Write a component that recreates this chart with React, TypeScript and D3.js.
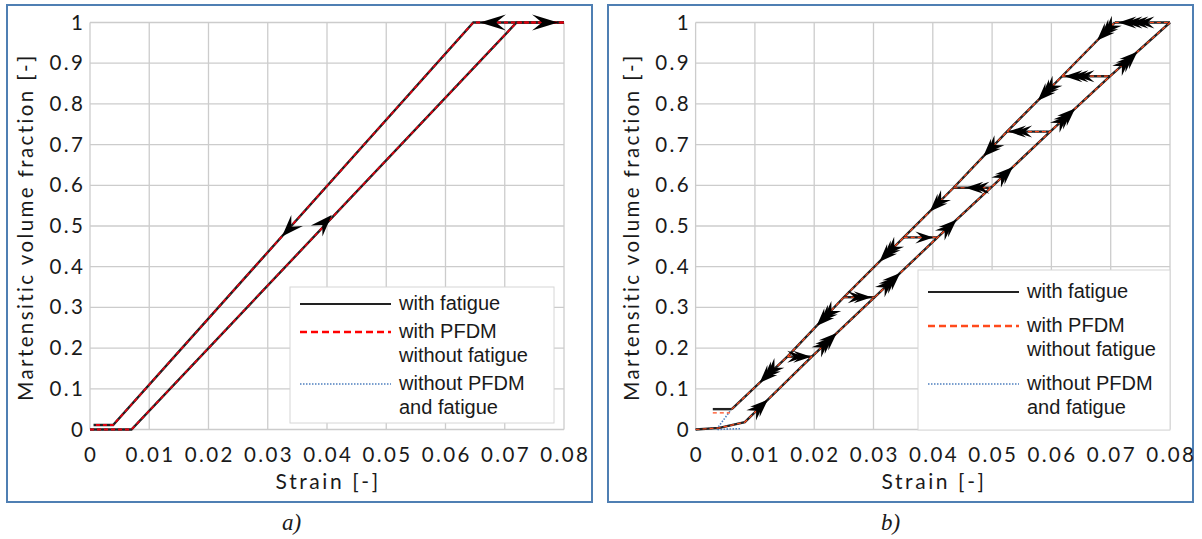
import React from 'react';
import * as d3 from 'd3';

// ---------- shared axes ----------
const xTicks = [0, 0.01, 0.02, 0.03, 0.04, 0.05, 0.06, 0.07, 0.08];
const xTickLabels = ['0', '0.01', '0.02', '0.03', '0.04', '0.05', '0.06', '0.07', '0.08'];
const yTicks = [0, 0.1, 0.2, 0.3, 0.4, 0.5, 0.6, 0.7, 0.8, 0.9, 1];
const yTickLabels = ['0', '0.1', '0.2', '0.3', '0.4', '0.5', '0.6', '0.7', '0.8', '0.9', '1'];
const xTitle = 'Strain [-]';
const yTitle = 'Martensitic volume fraction [-]';
const legendLabels = [['with fatigue'], ['with PFDM', 'without fatigue'], ['without PFDM', 'and fatigue']];

// ---------- panel a ----------
const aLoadStrain = [0, 0.007, 0.072, 0.08];
const aLoadFrac = [0, 0, 1, 1];
const aUnloadStrain = [0.08, 0.0647, 0.0039, 0.0006];
const aUnloadFrac = [1, 1, 0.011, 0.011];
const aArrowStrain = [0.0324, 0.0408, 0.0658, 0.079];
const aArrowFrac = [0.474, 0.527, 1, 1];
const aArrowToward = ['down', 'up', 'left', 'right'];

// ---------- panel b ----------
const bLowerStrain = [0, 0.004, 0.0083, 0.0196, 0.0302, 0.0408, 0.0498, 0.0598, 0.0699, 0.08];
const bLowerFrac = [0, 0.004, 0.018, 0.179, 0.325, 0.472, 0.594, 0.732, 0.868, 1];
const bUpperStrain = [0.0061, 0.01547, 0.025, 0.0351, 0.0435, 0.0525, 0.0618, 0.0707];
const bUpperFrac = [0.05, 0.179, 0.325, 0.472, 0.594, 0.732, 0.868, 1];
const bHorizLevels = [0.179, 0.325, 0.472, 0.594, 0.732, 0.868, 1];
const bHorizFrom = [0.01547, 0.025, 0.0351, 0.0435, 0.0525, 0.0618, 0.0707];
const bHorizTo = [0.0196, 0.0302, 0.0408, 0.0498, 0.0598, 0.0699, 0.08];
const bFatigueStubStrain = [0.0029, 0.0061];
const bFatigueStubFrac = [0.05, 0.05];
const bPfdmStubStrain = [0.0029, 0.0058];
const bPfdmStubFrac = [0.041, 0.041];
const bPlainStubStrain = [0.0058, 0.0035, 0.0075];
const bPlainStubFrac = [0.045, 0.0, 0.002];
const bUpArrowStrain = [0.0122, 0.0238, 0.0345, 0.044, 0.0535, 0.064, 0.0745];
const bUpArrowCount = [2, 3, 3, 2, 2, 3, 3];
const bDownArrowStrain = [0.0108, 0.0204, 0.031, 0.0395, 0.0485, 0.0577, 0.0677];
const bDownArrowCount = [3, 3, 3, 2, 2, 3, 3];
const bHArrowStrain = [0.0195, 0.0297, 0.0401, 0.0455, 0.0527, 0.0622, 0.0713];
const bHArrowFrac = [0.179, 0.325, 0.472, 0.594, 0.732, 0.868, 1];
const bHArrowDir = ['right', 'right', 'right', 'left', 'left', 'left', 'left'];
const bHArrowCount = [2, 2, 1, 2, 2, 3, 4];

const GRID = '#cccccc';
const TXT = '#1a1a1a';
const FRAME = '#4f7fb3';
const LS = 2.4;

function arrowPath(len: number, hw: number) {
  return `M0,0 L${-len},${-hw} L${-len * 0.62},0 L${-len},${hw} Z`;
}

function Arrow({ x, y, angle, len, hw, count, gap }: any) {
  const heads = d3.range(count);
  return (
    <g transform={`translate(${x},${y}) rotate(${angle})`}>
      {heads.map((i) => (
        <path key={i} d={arrowPath(len, hw)} transform={`translate(${-i * gap},0)`} fill="#000" />
      ))}
    </g>
  );
}

function Axes({ xs, ys }: any) {
  const [x0, x1] = xs.range();
  const [y0, y1] = ys.range();
  return (
    <g>
      {xTicks.map((t, i) => (
        <g key={'x' + i}>
          <line x1={xs(t)} x2={xs(t)} y1={y0} y2={y1} stroke={GRID} strokeWidth={1.3} />
          <text x={xs(t) + LS / 2} y={y0 + 32} textAnchor="middle" fontFamily="Lato" fontSize={20.5} letterSpacing={LS} fill={TXT}>
            {xTickLabels[i]}
          </text>
        </g>
      ))}
      {yTicks.map((t, i) => (
        <g key={'y' + i}>
          <line x1={x0} x2={x1} y1={ys(t)} y2={ys(t)} stroke={GRID} strokeWidth={1.3} />
          <text x={x0 - 7 + LS} y={ys(t) + 7} textAnchor="end" fontFamily="Lato" fontSize={20.5} letterSpacing={LS} fill={TXT}>
            {yTickLabels[i]}
          </text>
        </g>
      ))}
      <text x={(x0 + x1) / 2 + LS / 2} y={y0 + 59} textAnchor="middle" fontFamily="Lato" fontSize={21} letterSpacing={2.6} fill={TXT}>
        {xTitle}
      </text>
      <text
        transform={`translate(${x0 - 57},${(y0 + y1) / 2 + 1}) rotate(-90)`}
        textAnchor="middle"
        fontFamily="Lato"
        fontSize={20.5}
        letterSpacing={2.4}
        fill={TXT}
      >
        {yTitle}
      </text>
    </g>
  );
}

function Legend({ x, y, w, h, red, rows }: any) {
  return (
    <g>
      <rect x={x} y={y} width={w} height={h} fill="#fff" stroke="#d6d6d6" strokeWidth={1} />
      <line x1={x + 10} x2={x + 101} y1={rows[0]} y2={rows[0]} stroke="#222" strokeWidth={2.2} />
      <line x1={x + 10} x2={x + 101} y1={rows[1]} y2={rows[1]} stroke={red} strokeWidth={2.6} strokeDasharray="7,4" />
      <line x1={x + 10} x2={x + 101} y1={rows[2]} y2={rows[2]} stroke="#4e7fbf" strokeWidth={1.6} strokeDasharray="1.5,1.5" />
      {legendLabels.map((lines, i) =>
        lines.map((s, j) => (
          <text
            key={i + '-' + j}
            x={x + 109}
            y={rows[i] + 6 + j * 23.5}
            fontFamily="'Liberation Sans', Arial"
            fontSize={20}
            fill={TXT}
          >
            {s}
          </text>
        ))
      )}
    </g>
  );
}

function SeriesLines({ paths, red, redWidth }: any) {
  const line = d3.line<[number, number]>();
  return (
    <g fill="none">
      {paths.plain.map((p: any, i: number) => (
        <path key={'p' + i} d={line(p) || ''} stroke="#4e7fbf" strokeWidth={1.6} strokeDasharray="1.5,1.5" />
      ))}
      {paths.fatigue.map((p: any, i: number) => (
        <path key={'f' + i} d={line(p) || ''} stroke="#222" strokeWidth={2.4} />
      ))}
      {paths.pfdm.map((p: any, i: number) => (
        <path key={'r' + i} d={line(p) || ''} stroke={red} strokeWidth={redWidth} strokeDasharray="4,3" />
      ))}
    </g>
  );
}

function pts(xs: any, ys: any, sx: number[], fy: number[]): [number, number][] {
  return sx.map((s, i) => [xs(s), ys(fy[i])] as [number, number]);
}

function PanelA() {
  const xs = d3.scaleLinear().domain([0, 0.08]).range([90, 564]);
  const ys = d3.scaleLinear().domain([0, 1]).range([429.5, 22.5]);
  const main = [pts(xs, ys, aLoadStrain, aLoadFrac), pts(xs, ys, aUnloadStrain, aUnloadFrac)];
  const paths = { fatigue: main, pfdm: main, plain: main };
  const upDir = Math.atan2(ys(1) - ys(0), xs(0.072) - xs(0.007)) * 180 / Math.PI;
  const angles: any = { up: upDir, down: upDir + 180, left: 180, right: 0 };
  const lens = [22, 22, 26, 26];
  return (
    <g>
      <rect x={7} y={5} width={585} height={497} fill="#fff" stroke={FRAME} strokeWidth={2} />
      <Axes xs={xs} ys={ys} />
      <SeriesLines paths={paths} red="#e0000f" redWidth={1.8} />
      {aArrowStrain.map((s, i) => (
        <Arrow key={i} x={xs(s)} y={ys(aArrowFrac[i])} angle={angles[aArrowToward[i]]} len={lens[i]} hw={8} count={1} gap={0} />
      ))}
      <Legend x={290} y={287} w={264} h={136} red="#ff0000" rows={[304, 332, 384]} />
      <text x={282} y={530} fontFamily="'Liberation Serif', serif" fontStyle="italic" fontSize={23} fill={TXT}>
        a)
      </text>
    </g>
  );
}

function PanelB() {
  const xs = d3.scaleLinear().domain([0, 0.08]).range([695.6, 1170]);
  const ys = d3.scaleLinear().domain([0, 1]).range([429.5, 22.5]);
  const lower = pts(xs, ys, bLowerStrain, bLowerFrac);
  const upper = pts(xs, ys, bUpperStrain, bUpperFrac);
  const horiz = bHorizLevels.map((v, i) => pts(xs, ys, [bHorizFrom[i], bHorizTo[i]], [v, v]));
  const main = [lower, upper, ...horiz];
  const paths = {
    fatigue: [...main, pts(xs, ys, bFatigueStubStrain, bFatigueStubFrac)],
    pfdm: [...main, pts(xs, ys, bPfdmStubStrain, bPfdmStubFrac)],
    plain: [...main, pts(xs, ys, bPlainStubStrain, bPlainStubFrac)],
  };
  const lowerInterp = d3.scaleLinear().domain(bLowerStrain).range(bLowerFrac);
  const upperInterp = d3.scaleLinear().domain(bUpperStrain).range(bUpperFrac);
  const upAng = Math.atan2(ys(1) - ys(0.018), xs(0.08) - xs(0.0083)) * 180 / Math.PI;
  const downAng = Math.atan2(ys(0.05) - ys(1), xs(0.0061) - xs(0.0707)) * 180 / Math.PI;
  const len = 18;
  const hw = 7;
  const gap = 5;
  return (
    <g>
      <rect x={608} y={5} width={585} height={497} fill="#fff" stroke={FRAME} strokeWidth={2} />
      <Axes xs={xs} ys={ys} />
      <SeriesLines paths={paths} red="#ff4a1c" redWidth={1.2} />
      {bUpArrowStrain.map((s, i) => (
        <Arrow key={'u' + i} x={xs(s)} y={ys(lowerInterp(s))} angle={upAng} len={len} hw={hw} count={bUpArrowCount[i]} gap={gap} />
      ))}
      {bDownArrowStrain.map((s, i) => (
        <Arrow key={'d' + i} x={xs(s)} y={ys(upperInterp(s))} angle={downAng} len={len} hw={hw} count={bDownArrowCount[i]} gap={gap} />
      ))}
      {bHArrowStrain.map((s, i) => (
        <Arrow
          key={'h' + i}
          x={xs(s)}
          y={ys(bHArrowFrac[i])}
          angle={bHArrowDir[i] === 'left' ? 180 : 0}
          len={len}
          hw={hw - 1}
          count={bHArrowCount[i]}
          gap={gap + 1}
        />
      ))}
      <Legend x={918} y={270} w={252} h={160} red="#ff4a1c" rows={[292, 326, 384]} />
      <text x={881} y={530} fontFamily="'Liberation Serif', serif" fontStyle="italic" fontSize={23} fill={TXT}>
        b)
      </text>
    </g>
  );
}

export default function App() {
  return (
    <svg
      width={1202}
      height={539}
      style={{ position: 'absolute', left: 0, top: 0, background: '#fff' }}
    >
      <rect x={0} y={0} width={1202} height={539} fill="#fff" />
      <PanelA />
      <PanelB />
    </svg>
  );
}
